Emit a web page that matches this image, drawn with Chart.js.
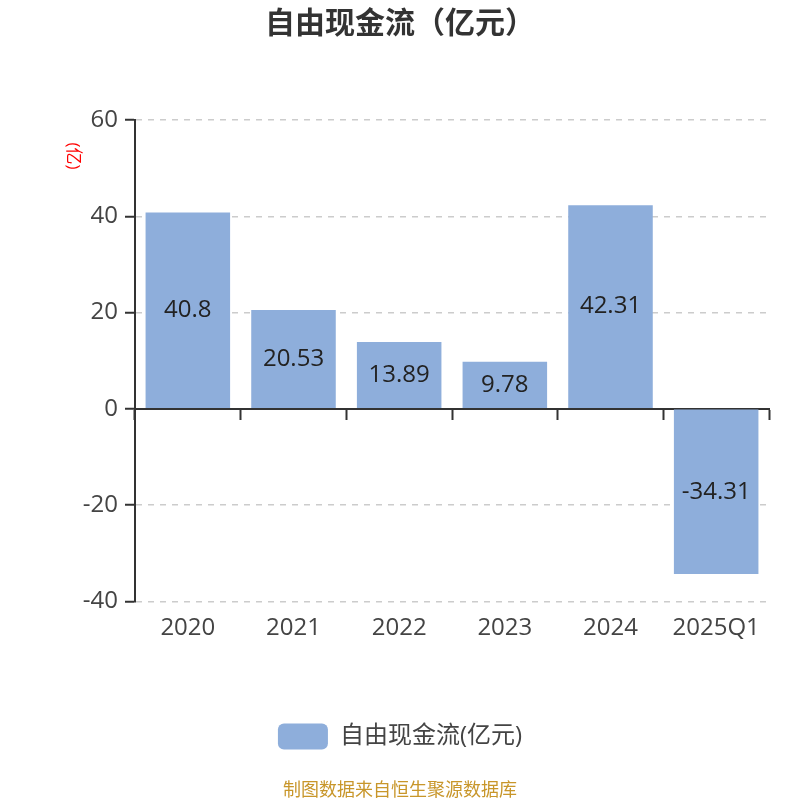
<!DOCTYPE html>
<html>
<head>
<meta charset="utf-8">
<script src="https://cdn.jsdelivr.net/npm/chart.js@4"></script>
<style>
  body { margin: 0; background: #fff; }
  #wrap { width: 800px; height: 800px; }
</style>
</head>
<body>
<div id="wrap"><canvas id="chart" width="800" height="800"></canvas></div>
<script>
const years = ["2020", "2021", "2022", "2023", "2024", "2025Q1"];
const cashFlow = [40.8, 20.53, 13.89, 9.78, 42.31, -34.31];
const yTicks = [-40, -20, 0, 20, 40, 60];

const fontFamily = "'Open Sans', 'Noto Sans CJK SC', sans-serif";

// value text in the middle of each bar
const barValues = {
    id: 'barValues',
    afterDatasetsDraw(chart) {
        const ctx = chart.ctx;
        const meta = chart.getDatasetMeta(0);
        ctx.save();
        ctx.font = "24px " + fontFamily;
        ctx.fillStyle = "#222";
        ctx.textAlign = "center";
        ctx.textBaseline = "middle";
        meta.data.forEach((bar, i) => {
            const mid = (bar.y + bar.base) / 2;
            ctx.fillText(String(cashFlow[i]), bar.x, mid);
        });
        ctx.restore();
    }
};

// unit label turned clockwise next to the y axis
const unitLabel = {
    id: 'unitLabel',
    afterDraw(chart) {
        const ctx = chart.ctx;
        ctx.save();
        ctx.translate(73, 156);
        ctx.rotate(Math.PI / 2);
        ctx.font = "17px " + fontFamily;
        ctx.fillStyle = "#ff0000";
        ctx.textAlign = "center";
        ctx.textBaseline = "middle";
        ctx.fillText("(亿)", 0, 0);
        ctx.restore();
    }
};

new Chart(document.getElementById('chart'), {
    type: 'bar',
    data: {
        labels: years,
        datasets: [
            {
                label: '自由现金流(亿元)',
                data: cashFlow,
                backgroundColor: '#8eaedb',
                borderWidth: 0,
                categoryPercentage: 0.8,
                barPercentage: 1
            }
        ]
    },
    options: {
        responsive: false,
        devicePixelRatio: 1,
        animation: false,
        layout: { padding: { left: 0, right: 0, top: 4, bottom: 0 } },
        scales: {
            x: {
                position: 'bottom',
                afterFit: scale => { scale.height = 82; },
                grid: { display: false, drawTicks: false },
                border: { display: false },
                ticks: { color: '#444', font: { size: 24, family: fontFamily }, padding: 12 }
            },
            x2: {
                position: { y: 0 },
                labels: years,
                offset: true,
                grid: { drawOnChartArea: false, drawTicks: true, tickLength: 10, tickColor: '#333', tickWidth: 2, offset: true },
                border: { display: true, color: '#333', width: 2 },
                ticks: { display: false }
            },
            y: {
                min: -40,
                max: 60,
                afterBuildTicks: scale => {
                    scale.ticks = yTicks.map(v => ({ value: v }));
                },
                afterFit: scale => { scale.width = 135; },
                grid: { color: '#ccc', lineWidth: 1.5, tickColor: '#333', tickLength: 10, tickWidth: 2 },
                border: { display: true, color: '#333', width: 2, dash: [6, 6] },
                ticks: { color: '#444', font: { size: 24, family: fontFamily }, padding: 7 }
            },
            // empty right-hand margin
            yRight: {
                position: 'right',
                afterFit: scale => { scale.width = 31; },
                grid: { display: false },
                border: { display: false },
                ticks: { display: false }
            }
        },
        plugins: {
            title: {
                display: true,
                text: '自由现金流（亿元）',
                color: '#333',
                font: { size: 30, weight: 'bold', family: "'Noto Sans CJK SC', sans-serif" },
                padding: { top: 0, bottom: 80 }
            },
            subtitle: {
                display: true,
                position: 'bottom',
                text: '制图数据来自恒生聚源数据库',
                color: '#c8962a',
                font: { size: 18, family: "'Noto Sans CJK SC', sans-serif" },
                padding: { top: 19, bottom: 0 }
            },
            legend: {
                position: 'bottom',
                labels: {
                    color: '#444',
                    font: { size: 24, family: fontFamily },
                    boxWidth: 50,
                    boxHeight: 26,
                    useBorderRadius: true,
                    borderRadius: 6,
                    padding: 40
                }
            },
            tooltip: { enabled: false }
        }
    },
    plugins: [barValues, unitLabel]
});
</script>
</body>
</html>
